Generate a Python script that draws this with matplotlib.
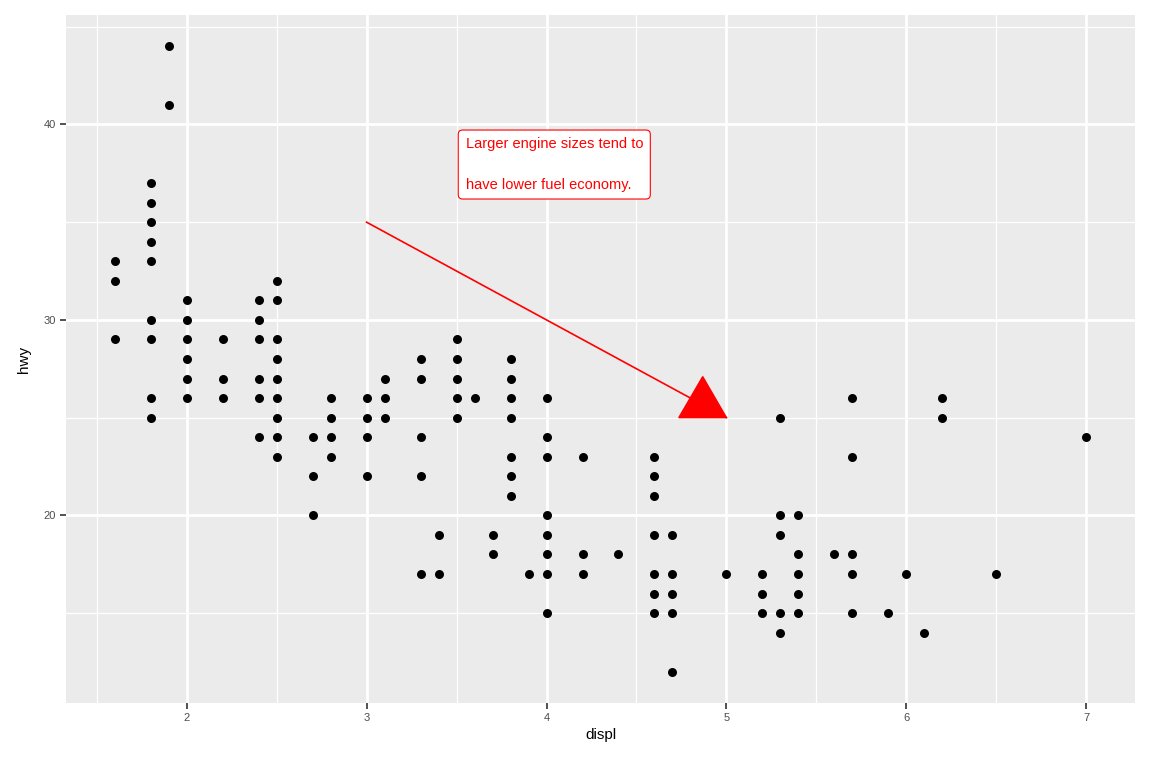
import matplotlib
matplotlib.use("Agg")
import matplotlib.pyplot as plt
from matplotlib.patches import Polygon

plt.rcParams['font.family'] = ['Liberation Sans', 'DejaVu Sans']

# unique (displ, hwy) combinations
displ_groups = {
    1.6: [33, 32, 29],
    1.8: [37, 36, 35, 34, 33, 30, 29, 26, 25],
    1.9: [44, 41],
    2.0: [31, 30, 29, 28, 27, 26],
    2.2: [29, 27, 26],
    2.4: [31, 30, 29, 27, 26, 24],
    2.5: [32, 31, 29, 28, 27, 26, 25, 24, 23],
    2.7: [24, 22, 20],
    2.8: [26, 25, 24, 23],
    3.0: [26, 25, 24, 22],
    3.1: [27, 26, 25],
    3.3: [28, 27, 24, 22, 17],
    3.4: [19, 17],
    3.5: [29, 28, 27, 26, 25],
    3.6: [26],
    3.7: [19, 18],
    3.8: [28, 27, 26, 25, 23, 22, 21],
    3.9: [17],
    4.0: [26, 24, 23, 20, 19, 18, 17, 15],
    4.2: [23, 18, 17],
    4.4: [18],
    4.6: [23, 22, 21, 19, 17, 16, 15],
    4.7: [19, 17, 16, 15, 12],
    5.0: [17],
    5.2: [17, 16, 15],
    5.3: [25, 20, 19, 15, 14],
    5.4: [20, 18, 17, 16, 15],
    5.6: [18],
    5.7: [26, 23, 18, 17, 15],
    5.9: [15],
    6.0: [17],
    6.1: [14],
    6.2: [26, 25],
    6.5: [17],
    7.0: [24],
}
displ = [d for d, hs in displ_groups.items() for _ in hs]
hwy = [h for hs in displ_groups.values() for h in hs]

x_ticks = [2, 3, 4, 5, 6, 7]
y_ticks = [20, 30, 40]

label_text = "Larger engine sizes tend to\nhave lower fuel economy."
label_pos = (3.55, 37.95)
seg_start = (3.0, 35.0)
seg_end = (5.0, 25.0)
head_vertices = [(4.735, 25.0), (5.0, 25.0), (4.868, 27.1)]

fig = plt.figure(figsize=(11.52, 7.68), dpi=100)
ax = fig.add_axes([66/1152, 1-703/768, (1135-66)/1152, (703-15)/768])
ax.set_facecolor('#EBEBEB')

xmin, xmax = min(displ), max(displ)
ymin, ymax = min(hwy), max(hwy)
ex = (xmax - xmin) * 0.05
ey = (ymax - ymin) * 0.05
ax.set_xlim(xmin - ex, xmax + ex)
ax.set_ylim(ymin - ey, ymax + ey)

ax.set_xticks(x_ticks)
ax.set_yticks(y_ticks)
ax.set_xticks([1.5 + i for i in range(6)], minor=True)
ax.set_yticks([15, 25, 35, 45], minor=True)
ax.grid(which='major', color='white', linewidth=2.0)
ax.grid(which='minor', color='white', linewidth=0.9)
ax.set_axisbelow(True)
for s in ax.spines.values():
    s.set_visible(False)
ax.tick_params(which='major', length=4, width=1.2, color='#333333',
               labelsize=8, labelcolor='#4D4D4D', pad=3)
ax.tick_params(which='minor', length=0)

ax.scatter(displ, hwy, s=42, color='black', zorder=3, linewidths=0)

ax.plot([seg_start[0], seg_end[0]], [seg_start[1], seg_end[1]],
        color='red', linewidth=1.2, zorder=4)
ax.add_patch(Polygon(head_vertices, closed=True, facecolor='red',
                     edgecolor='red', zorder=5))

ax.text(label_pos[0], label_pos[1], label_text, color='red', fontsize=10.5,
        ha='left', va='center', linespacing=3.4, zorder=6,
        bbox=dict(boxstyle='round,pad=0.5,rounding_size=0.3',
                  facecolor='white', edgecolor='red', linewidth=0.8))

ax.set_xlabel('displ', fontsize=11, color='black', labelpad=4)
ax.set_ylabel('hwy', fontsize=11, color='black', labelpad=9)

fig.savefig('out.png', dpi=100)
